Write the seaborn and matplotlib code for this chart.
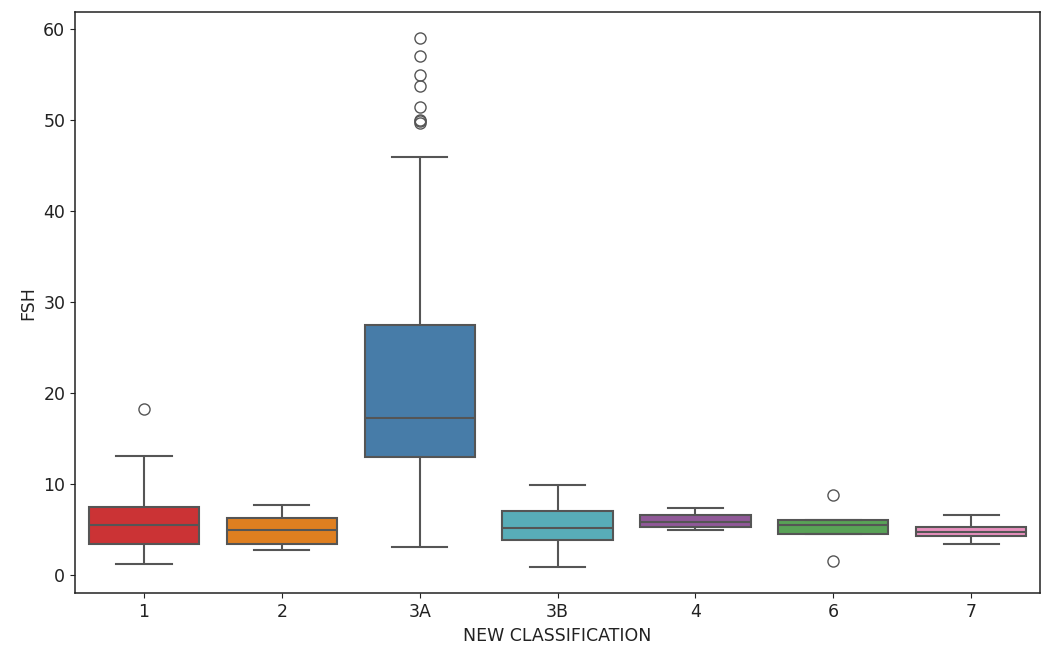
import pandas as pd
import seaborn as sns
import matplotlib.pyplot as plt

# FSH values, one list per classification group
order = ['1', '2', '3A', '3B', '4', '6', '7']

fsh_1 = [1.2, 2.6, 3.0, 3.45, 4.3, 5.0, 5.5, 6.1, 6.8, 7.45, 9.2, 13.1, 18.3]
fsh_2 = [2.75, 3.1, 3.45, 4.2, 4.95, 5.6, 6.3, 7.0, 7.75]
fsh_3a = [3.1, 4.5, 5.8, 7.0, 8.2, 9.1, 10.0, 10.8, 11.6, 12.4, 13.0,
          13.5, 14.0, 14.4, 14.9, 15.3, 15.7, 16.2, 16.6, 16.9, 17.25,
          18.0, 19.0, 20.2, 21.5, 22.6, 23.7, 24.6, 25.5, 26.6, 27.5,
          36.0, 46.0,
          49.7, 49.9, 50.0, 51.5, 53.8, 55.0, 57.1, 59.0]
fsh_3b = [0.9, 2.9, 3.8, 4.6, 5.2, 6.1, 7.0, 8.4, 9.9]
fsh_4 = [4.95, 5.1, 5.33, 5.55, 5.8, 6.2, 6.6, 7.0, 7.42]
fsh_6 = [1.5, 4.55, 4.55, 5.2, 5.55, 5.9, 6.05, 6.05, 8.8]
fsh_7 = [3.4, 3.9, 4.24, 4.5, 4.75, 5.0, 5.33, 5.9, 6.6]

groups = [fsh_1, fsh_2, fsh_3a, fsh_3b, fsh_4, fsh_6, fsh_7]

colors = ['#e41a1c', '#ff7f00', '#377eb8', '#48b9c8', '#984ea3', '#4daf4a', '#f781bf']

# --- build a long-form table ---
rows = []
for label, vals in zip(order, groups):
    for v in vals:
        rows.append({'NEW CLASSIFICATION': label, 'FSH': v})
df = pd.DataFrame(rows)

plt.rcParams['font.size'] = 12.5
plt.rcParams['axes.linewidth'] = 1.1
plt.rcParams['text.color'] = '#222222'
plt.rcParams['axes.labelcolor'] = '#222222'
plt.rcParams['xtick.color'] = '#222222'
plt.rcParams['ytick.color'] = '#222222'
plt.rcParams['axes.edgecolor'] = '#222222'

fig, ax = plt.subplots(figsize=(10.57, 6.59), dpi=100)
sns.boxplot(data=df, x='NEW CLASSIFICATION', y='FSH', hue='NEW CLASSIFICATION',
            order=order, hue_order=order, palette=dict(zip(order, colors)),
            linewidth=1.5, linecolor='#555555', fliersize=8, legend=False, ax=ax)

plt.subplots_adjust(left=0.071, right=0.984, top=0.982, bottom=0.0997)
plt.savefig('out.png', dpi=100)
